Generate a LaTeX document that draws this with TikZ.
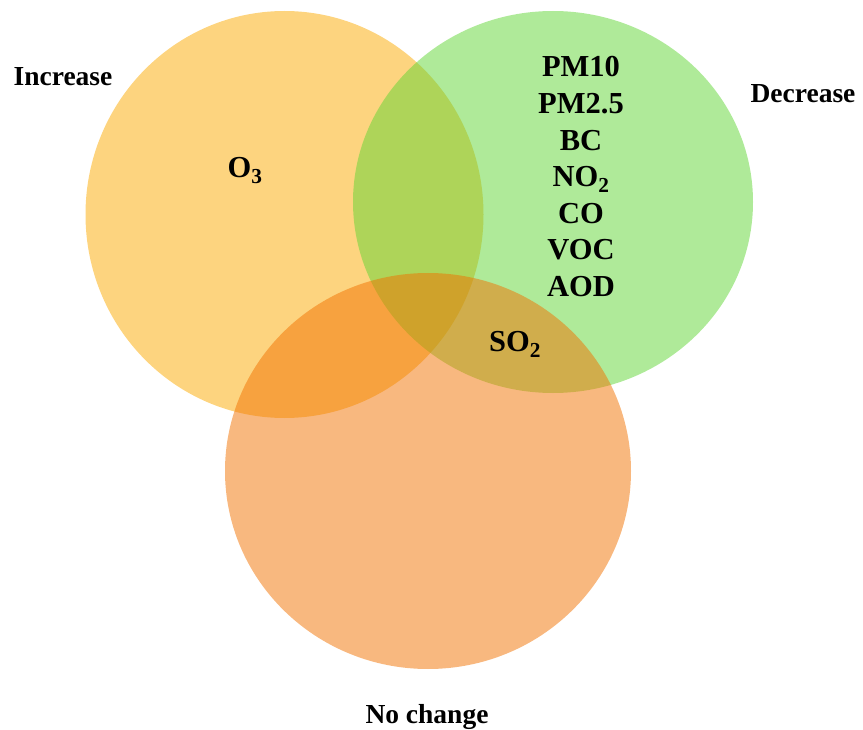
\documentclass[tikz,border=0pt]{standalone}
\usepackage{fontspec}
\setmainfont{Liberation Serif}
\definecolor{incr}{RGB}{251,170,0}
\definecolor{decr}{RGB}{95,213,51}
\definecolor{nochg}{RGB}{241,113,0}
\begin{document}
\begin{tikzpicture}[x = 1pt, y = -1pt,
  setfill/.style = {fill = #1, fill opacity = 0.5},
  biglab/.style = {font = \bfseries\fontsize{27.5}{32}\selectfont, inner sep = 0pt, anchor = base},
  gaslab/.style = {font = \bfseries\fontsize{30.5}{36}\selectfont, inner sep = 0pt, anchor = base}]

\useasboundingbox (0,0) rectangle (863,730);

\fill [setfill = incr] (284.5,214.5) ellipse [x radius = 199pt, y radius = 203.5pt];
\fill [setfill = decr] (553,202) ellipse [x radius = 200pt, y radius = 191pt];
\fill [setfill = nochg] (428,471) ellipse [x radius = 203pt, y radius = 198pt];

\node [biglab] (increase) at (63,86) {Increase};
\node [biglab] (decrease) at (803,103) {Decrease};
\node [biglab] (nochange) at (427,723.5) {No change};

\node [gaslab] (othree) at (245,178) {O\textsubscript{3}};
\node [gaslab] (sotwo) at (515,352) {SO\textsubscript{2}};
\foreach \g [count = \i] in {PM10,PM2.5,BC,NO\textsubscript{2},CO,VOC,AOD}
  {\node [gaslab] (gas\i) at (581,{77 + 36.6*(\i-1)}) {\g};}

\end{tikzpicture}
\end{document}
